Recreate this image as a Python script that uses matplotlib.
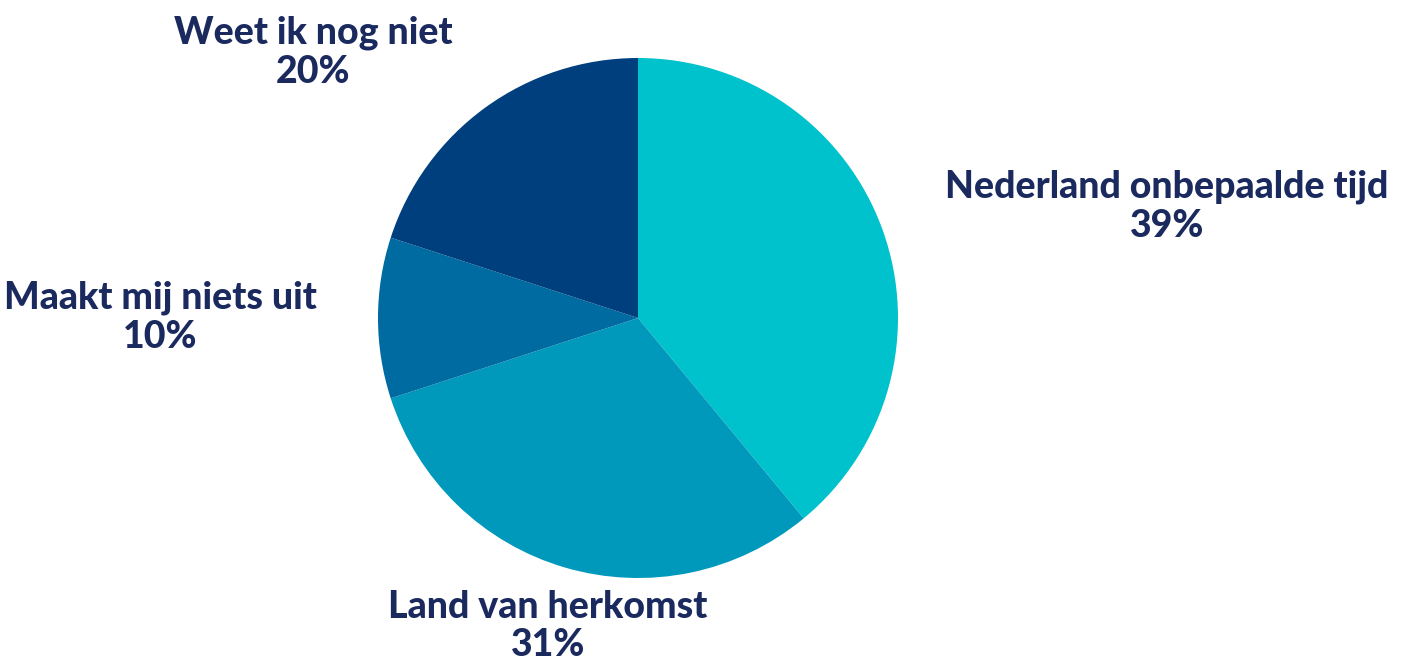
import matplotlib.pyplot as plt

labels = ['Nederland onbepaalde tijd', 'Land van herkomst', 'Maakt mij niets uit', 'Weet ik nog niet']
values = [39, 31, 10, 20]
colors = ['#00C2CC', '#0099BC', '#006BA1', '#003F7E']
text_color = '#1B2A5E'

fig = plt.figure(figsize=(14.04, 6.6), dpi=100)
W, H = 1404, 660
cx, cy, r = 638, 318, 260
ax = fig.add_axes([(cx - r) / W, (H - cy - r) / H, 2 * r / W, 2 * r / H])
ax.pie(values, colors=colors, startangle=90, counterclock=False, radius=1,
       wedgeprops=dict(linewidth=0))
ax.set_xlim(-1, 1)
ax.set_ylim(-1, 1)
ax.set_aspect('equal')
ax.axis('off')

# label centres in pixels (x, y from top)
label_pos = [(1167, 206), (548, 626), (160, 317), (313, 52)]
for lab, v, (px, py) in zip(labels, values, label_pos):
    fig.text(px / W, 1 - py / H, f'{lab}\n{v}%', ha='center', va='center',
             fontsize=27, fontweight='black', family='Lato', color=text_color,
             linespacing=1.17)

fig.savefig('out.png', dpi=100)
